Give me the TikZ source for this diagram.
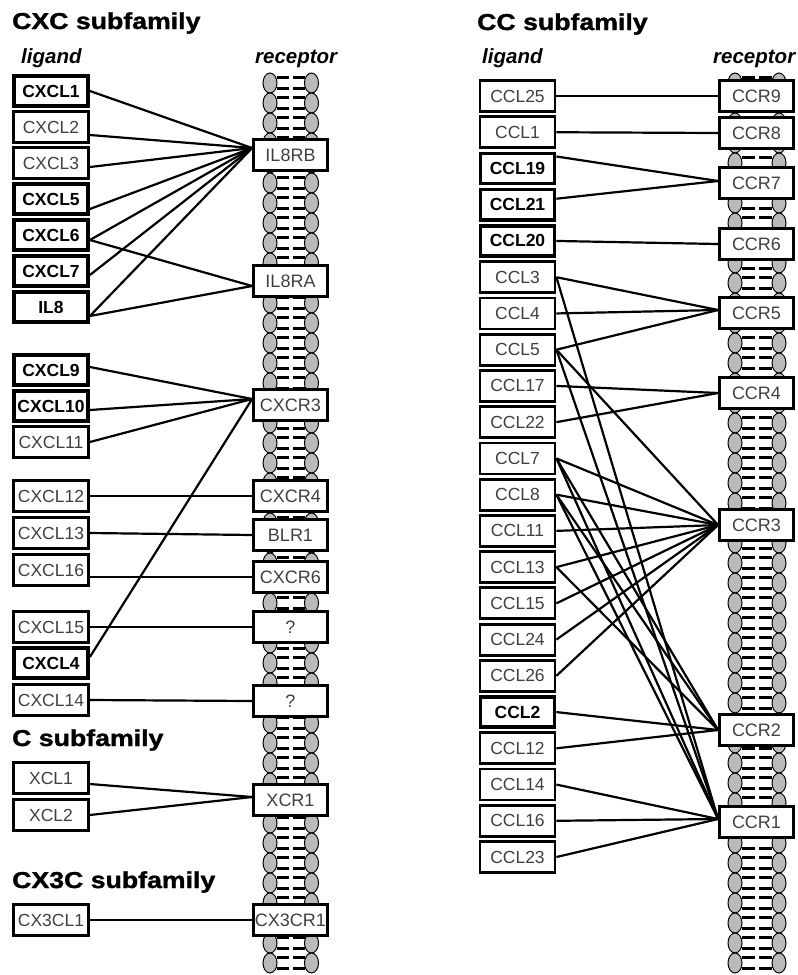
\documentclass[tikz,border=0pt]{standalone}
\usepackage{fontspec}
\setmainfont{Liberation Sans}
\newfontfamily\headfont[FakeBold=1.3]{Liberation Sans Bold}
\usepackage{graphicx}
\begin{document}
\begin{tikzpicture}[x=1pt,y=-1pt,
  lig/.style={draw, line width=2.8pt, fill=white, minimum width=75pt, minimum height=31pt, inner sep=0pt, font=\fontsize{17.5}{19}\selectfont, text=black!75},
  ligb/.style={lig, line width=3.6pt, minimum width=74.2pt, minimum height=30.2pt, font=\fontsize{17.5}{19}\selectfont\bfseries, text=black},
  rec/.style={draw, line width=2.8pt, fill=white, minimum width=74pt, minimum height=31pt, inner sep=0pt, font=\fontsize{18}{20}\selectfont, text=black!75},
  conn/.style={line width=2.2pt},
  head/.style={anchor=base west, inner sep=0pt, font=\fontsize{23}{25}\headfont},
  sublabel/.style={anchor=base west, inner sep=0pt, font=\fontsize{20.5}{22}\selectfont\bfseries\itshape},
  lipid/.style={draw=black, line width=1pt, fill=black!27},
  tail/.style={line width=2.4pt}
]
\useasboundingbox (0,0) rectangle (798,975);
\fill[white] (0,0) rectangle (798,975);

% membranes
\foreach \k in {0,...,44} {
  \pgfmathsetmacro\yy{83+20*\k}
  \draw[tail] (277,\yy-5.5) -- (289,\yy-5.5) (293,\yy-5.5) -- (305,\yy-5.5);
  \draw[tail] (277,\yy+5.5) -- (289,\yy+5.5) (293,\yy+5.5) -- (305,\yy+5.5);
  \draw[lipid] (270,\yy) ellipse [x radius=7pt, y radius=10pt];
  \draw[lipid] (311.5,\yy) ellipse [x radius=7pt, y radius=10pt];
  \draw[tail] (742,\yy-5.5) -- (755,\yy-5.5) (759,\yy-5.5) -- (772,\yy-5.5);
  \draw[tail] (742,\yy+5.5) -- (755,\yy+5.5) (759,\yy+5.5) -- (772,\yy+5.5);
  \draw[lipid] (735,\yy) ellipse [x radius=7pt, y radius=10pt];
  \draw[lipid] (779,\yy) ellipse [x radius=7pt, y radius=10pt];
}

% headings
\node[head] (hCXC) at (12,29) {\scalebox{1.16}[1]{CXC subfamily}};
\node[head] (hCC) at (477,30) {\scalebox{1.16}[1]{CC subfamily}};
\node[head] (hC) at (12,746) {\scalebox{1.16}[1]{C subfamily}};
\node[head] (hCX3C) at (12,888) {\scalebox{1.16}[1]{CX3C subfamily}};
\node[sublabel] (ligL) at (21,63) {ligand};
\node[sublabel] (recL) at (255,63) {receptor};
\node[sublabel] (ligR) at (482,63) {ligand};
\node[sublabel] (recR) at (713,63) {receptor};

% CXC ligands
\node[ligb] (CXCL1) at (51,91) {CXCL1};
\node[lig] (CXCL2) at (51,127) {CXCL2};
\node[lig] (CXCL3) at (51,163) {CXCL3};
\node[ligb] (CXCL5) at (51,199) {CXCL5};
\node[ligb] (CXCL6) at (51,235) {CXCL6};
\node[ligb] (CXCL7) at (51,271) {CXCL7};
\node[ligb] (IL8) at (51,307) {IL8};
\node[ligb] (CXCL9) at (51,370) {CXCL9};
\node[ligb] (CXCL10) at (51,406) {CXCL10};
\node[lig] (CXCL11) at (51,442) {CXCL11};
\node[lig] (CXCL12) at (51,496) {CXCL12};
\node[lig] (CXCL13) at (51,533) {CXCL13};
\node[lig] (CXCL16) at (51,570) {CXCL16};
\node[lig] (CXCL15) at (51,627) {CXCL15};
\node[ligb] (CXCL4) at (51,663) {CXCL4};
\node[lig] (CXCL14) at (51,700) {CXCL14};
\node[lig] (XCL1) at (51,778) {XCL1};
\node[lig] (XCL2) at (51,815) {XCL2};
\node[lig] (CX3CL1) at (51,920) {CX3CL1};

% CXC receptors
\node[rec] (IL8RB) at (290.5,155) {IL8RB};
\node[rec] (IL8RA) at (290.5,281) {IL8RA};
\node[rec] (CXCR3) at (290.5,405) {CXCR3};
\node[rec] (CXCR4) at (290.5,496) {CXCR4};
\node[rec] (BLR1) at (290.5,535) {BLR1};
\node[rec] (CXCR6) at (290.5,577) {CXCR6};
\node[rec] (Q1) at (290.5,627) {?};
\node[rec] (Q2) at (290.5,701) {?};
\node[rec] (XCR1) at (290.5,800) {XCR1};
\node[rec] (CX3CR1) at (290.5,920) {CX3CR1};

% CC ligands
\foreach \n/\s [count=\i from 0] in {CCL25/lig, CCL1/lig, CCL19/ligb, CCL21/ligb, CCL20/ligb, CCL3/lig, CCL4/lig, CCL5/lig, CCL17/lig, CCL22/lig, CCL7/lig, CCL8/lig, CCL11/lig, CCL13/lig, CCL15/lig, CCL24/lig, CCL26/lig, CCL2/ligb, CCL12/lig, CCL14/lig, CCL16/lig, CCL23/lig}
  \node[\s] (\n) at (517.5,96+36.24*\i) {\n};

% CC receptors
\node[rec] (CCR9) at (756.5,96) {CCR9};
\node[rec] (CCR8) at (756.5,133) {CCR8};
\node[rec] (CCR7) at (756.5,183) {CCR7};
\node[rec] (CCR6) at (756.5,244) {CCR6};
\node[rec] (CCR5) at (756.5,313) {CCR5};
\node[rec] (CCR4) at (756.5,393) {CCR4};
\node[rec] (CCR3) at (756.5,525) {CCR3};
\node[rec] (CCR2) at (756.5,730) {CCR2};
\node[rec] (CCR1) at (756.5,822) {CCR1};

% convergence points
\coordinate (IL8RBin) at ([yshift=7pt]IL8RB.west);
\coordinate (IL8RAin) at ([yshift=-5pt]IL8RA.west);
\coordinate (CXCR3in) at ([yshift=6pt]CXCR3.west);
\coordinate (XCR1in) at ([yshift=3pt]XCR1.west);

% CXC connectors
\draw[conn] (CXCL1.east) -- (IL8RBin);
\draw[conn] ([yshift=-8pt]CXCL2.east) -- (IL8RBin);
\draw[conn] ([yshift=-4pt]CXCL3.east) -- (IL8RBin);
\draw[conn] ([yshift=-10pt]CXCL5.east) -- (IL8RBin);
\draw[conn] ([yshift=-5pt]CXCL6.east) -- (IL8RBin);
\draw[conn] ([yshift=-5pt]CXCL6.east) -- (IL8RAin);
\draw[conn] ([yshift=-4pt]CXCL7.east) -- (IL8RBin);
\draw[conn] ([yshift=-9pt]IL8.east) -- (IL8RBin);
\draw[conn] ([yshift=-9pt]IL8.east) -- (IL8RAin);
\draw[conn] ([yshift=3pt]CXCL9.east) -- (CXCR3in);
\draw[conn] ([yshift=-4pt]CXCL10.east) -- (CXCR3in);
\draw[conn] (CXCL11.east) -- (CXCR3in);
\draw[conn] ([yshift=6pt]CXCL4.east) -- (CXCR3in);
\draw[conn] (CXCL12.east) -- (CXCR4.west);
\draw[conn] (CXCL13.east) -- (BLR1.west);
\draw[conn] (CXCL16.east |- CXCR6.west) -- (CXCR6.west);
\draw[conn] (CXCL15.east) -- (Q1.west);
\draw[conn] (CXCL14.east) -- (Q2.west);
\draw[conn] ([yshift=-6pt]XCL1.east) -- (XCR1in);
\draw[conn] (XCL2.east) -- (XCR1in);
\draw[conn] (CX3CL1.east) -- (CX3CR1.west);

% CC connectors
\draw[conn] (CCL25.east) -- (CCR9.west);
\draw[conn] (CCL1.east) -- (CCR8.west);
\draw[conn] ([yshift=12pt]CCL19.east) -- ([yshift=2pt]CCR7.west);
\draw[conn] ([yshift=6pt]CCL21.east) -- ([yshift=2pt]CCR7.west);
\draw[conn] (CCL20.east) -- (CCR6.west);
\foreach \l in {CCL3,CCL4,CCL5} \draw[conn] (\l.east) -- ([yshift=3pt]CCR5.west);
\foreach \l in {CCL17,CCL22} \draw[conn] (\l.east) -- (CCR4.west);
\foreach \l in {CCL5,CCL7,CCL8,CCL11,CCL13,CCL15,CCL24,CCL26} \draw[conn] (\l.east) -- (CCR3.west);
\foreach \l in {CCL7,CCL8,CCL13,CCL2,CCL12} \draw[conn] (\l.east) -- (CCR2.west);
\foreach \l in {CCL3,CCL5,CCL7,CCL8,CCL14,CCL16,CCL23} \draw[conn] (\l.east) -- ([yshift=3pt]CCR1.west);
\end{tikzpicture}
\end{document}
